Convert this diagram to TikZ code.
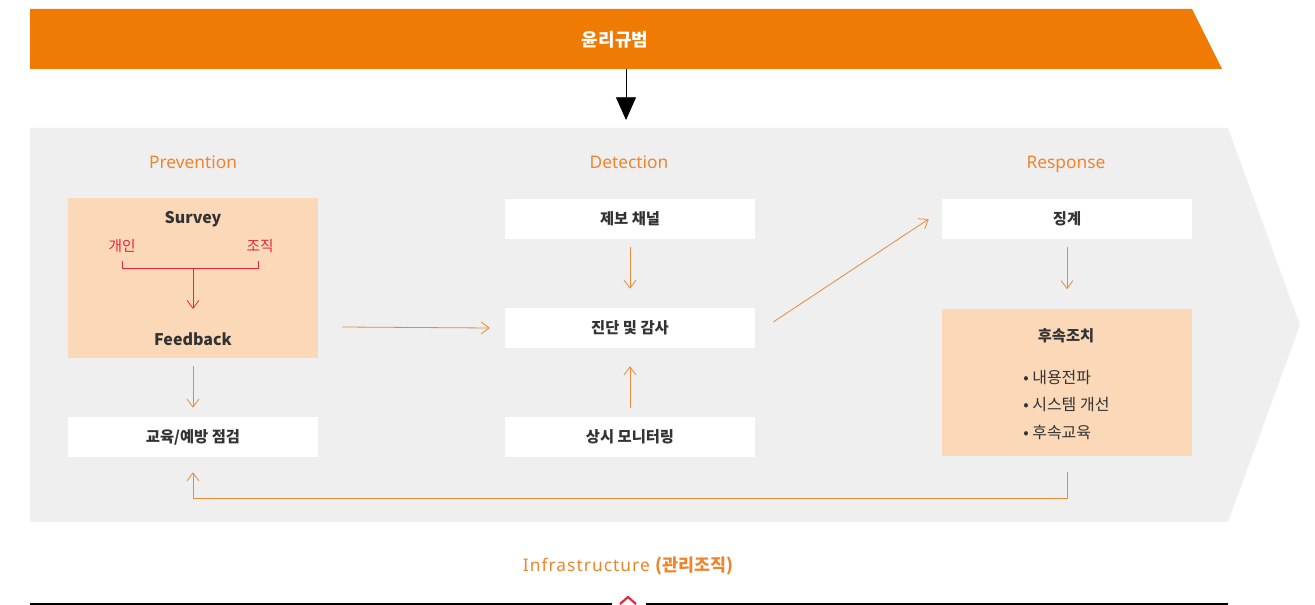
\documentclass[tikz,border=0pt]{standalone}
\usepackage{fontspec}
\setmainfont{Noto Sans}
\newfontfamily\kr{Noto Sans CJK KR}
\usetikzlibrary{arrows.meta,positioning}
\definecolor{bannerorange}{HTML}{EF7A04}
\definecolor{paneltone}{HTML}{EFEFEF}
\definecolor{peach}{HTML}{FBD9B8}
\definecolor{titleorange}{HTML}{F0842A}
\definecolor{flowline}{HTML}{E88A3A}
\definecolor{surveyred}{HTML}{E8243C}
\definecolor{ink}{HTML}{333333}
\begin{document}
\begin{tikzpicture}[x=0.75pt, y=-0.75pt, line join=round, >={Straight Barb[length=6pt,width=9pt]},
	whitebox/.style={fill=white, minimum width=187.5pt, minimum height=30pt, inner sep=0pt, font=\kr\bfseries\fontsize{11.5}{13}\selectfont, text=ink},
	peachbox/.style={fill=peach, minimum width=187.5pt, inner sep=0pt},
	phase/.style={font=\fontsize{13}{15}\selectfont, text=titleorange, text height=9.5pt, text depth=3pt},
	flow/.style={draw=flowline, line width=0.6pt}]
			\useasboundingbox (0,0) rectangle (1315,605);
			\fill[bannerorange] (30,9) -- (1192,9) -- (1222,69) -- (30,69) -- cycle;
			\node[font=\kr\bfseries\fontsize{13.5}{15}\selectfont, text=white] (banner) at (615,40) {윤리규범};
			\coordinate (bannerfoot) at (626,69);
			\coordinate (paneltop) at (626,120);
			\draw[line width=0.6pt, -{Triangle[length=17pt,width=15pt]}] (bannerfoot) -- (paneltop);
			\fill[paneltone] (30,128) -- (1228,128) -- (1300,325) -- (1228,522) -- (30,522) -- cycle;
			\node[phase] (prevention) at (193,164) {Prevention};
			\node[phase] (detection) at (629,164) {Detection};
			\node[phase] (response) at (1066,164) {Response};
			% Prevention
			\node[peachbox, minimum height=120pt] (survey) at (193,278) {};
			\node[font=\kr\bfseries\fontsize{12}{14}\selectfont, text=ink] (surveytitle) at (193,219) {Survey};
			\node[font=\kr\fontsize{11}{13}\selectfont, text=surveyred] (person) at (122,246) {개인};
			\node[font=\kr\fontsize{11}{13}\selectfont, text=surveyred] (org) at (260,246) {조직};
			\node[font=\kr\bfseries\fontsize{12}{14}\selectfont, text=ink] (feedback) at (193,339) {Feedback};
			\coordinate (personfoot) at (122,261);
			\coordinate (orgfoot) at (258,261);
			\coordinate (join) at (193,268);
			\draw[surveyred, line width=0.6pt] (personfoot) -- ++(0,7) -- ++(136,0) -- (orgfoot);
			\draw[surveyred, line width=0.6pt, ->] (join) -- (193,309);
			\node[whitebox] (edu) at (193,437) {교육/예방 점검};
			\draw[flow, ->, shorten <=6pt, shorten >=6.75pt] (survey.south) -- (edu.north);
			% Detection
			\node[whitebox] (report) at (630,219) {제보 채널};
			\node[whitebox] (audit) at (630,328) {진단 및 감사};
			\node[whitebox] (monitor) at (630,437) {상시 모니터링};
			\draw[flow, ->, shorten <=6pt, shorten >=14.25pt] (report.south) -- (audit.north);
			\draw[flow, ->, shorten <=6.75pt, shorten >=13.5pt] (monitor.north) -- (audit.south);
			\coordinate (prevout) at (342,327);
			\draw[flow, ->] (prevout) -- ([xshift=-11.25pt]audit.west);
			% Response
			\node[whitebox] (discipline) at (1067,219) {징계};
			\node[peachbox, minimum height=110.25pt] (follow) at (1067,383) {};
			\node[font=\kr\bfseries\fontsize{11.5}{13}\selectfont, text=ink] (followtitle) at (1066,336) {후속조치};
			\node[font=\kr\fontsize{12}{20.5}\selectfont, text=ink, align=left, anchor=north west, inner sep=0pt] (followlist) at (1023,370)
				{\textbullet\ 내용전파\\\textbullet\ 시스템 개선\\\textbullet\ 후속교육};
			\draw[flow, ->, shorten <=6pt, shorten >=15pt] (discipline.south) -- (follow.north);
			\draw[flow, ->] ([shift={(18,-6)}]audit.east) -- ([shift={(-13,0)}]discipline.west);
			\draw[flow, ->] ([yshift=-11.25pt]follow.south) -- ++(0,27) -| ([yshift=-11.25pt]edu.south);
			% Infrastructure
			\node[font=\fontsize{13}{15}\selectfont, text=titleorange] (infra) at (628,566) {\addfontfeatures{LetterSpace=6}Infrastructure {\kr\bfseries (관리조직)}};
			\coordinate (baseleft) at (30,604);
			\coordinate (baseright) at (1228,604);
			\draw[line width=0.8pt] (baseleft) -- (612,604);
			\draw[line width=0.8pt] (646,604) -- (baseright);
			\draw[surveyred, line width=1.6pt] (620,604) -- (628,597) -- (636,604);
		\end{tikzpicture}
\end{document}
